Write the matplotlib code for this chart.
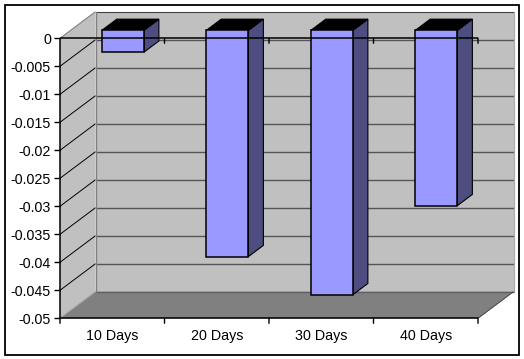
import matplotlib
matplotlib.use("Agg")
import matplotlib.pyplot as plt
from matplotlib.patches import Polygon, Rectangle

categories = ["10 Days", "20 Days", "30 Days", "40 Days"]
values = [-0.0039, -0.0404, -0.0472, -0.0313]
y_ticks = [0, -0.005, -0.01, -0.015, -0.02, -0.025, -0.03, -0.035, -0.04, -0.045, -0.05]
y_labels = ["0", "-0.005", "-0.01", "-0.015", "-0.02", "-0.025", "-0.03", "-0.035", "-0.04", "-0.045", "-0.05"]

W, H = 524, 359
plt.rcParams["font.family"] = ["Liberation Sans", "DejaVu Sans"]
fig = plt.figure(figsize=(W / 100, H / 100), dpi=100, facecolor="white")

L, R, T, B = 60.0, 478.0, 38.3, 318.3
ax = fig.add_axes([L / W, 1 - B / H, (R - L) / W, (B - T) / H])
ax.set_xlim(0, 4)
ax.set_ylim(-0.05, 0)
ax.patch.set_visible(False)

# oblique projection: depth d in [0, 1] runs from the front plane to the back wall
DX = 35.5 / ((R - L) / 4)
DY = 26.6 / ((B - T) / 0.05)


def P(x, y, d=0.0):
    return (x + DX * d, y + DY * d)


def poly(pts, fc, ec="none", lw=0.0, z=1):
    ax.add_patch(Polygon(pts, closed=True, facecolor=fc, edgecolor=ec, linewidth=lw,
                         zorder=z, clip_on=False, joinstyle="miter"))


def line(a, b, color, lw, z):
    ax.plot([a[0], b[0]], [a[1], b[1]], color=color, lw=lw, zorder=z, clip_on=False,
            solid_capstyle="butt")


y0, y1 = y_ticks[0], y_ticks[-1]
# walls and floor
poly([P(0, y0, 1), P(4, y0, 1), P(4, y1, 1), P(0, y1, 1)], "#C0C0C0", z=1)
poly([P(0, y0), P(0, y0, 1), P(0, y1, 1), P(0, y1)], "#C0C0C0", z=1)
poly([P(0, y1), P(4, y1), P(4, y1, 1), P(0, y1, 1)], "#808080", z=1.5)

# gridlines
for v in y_ticks[1:-1]:
    line(P(0, v, 1), P(4, v, 1), "#555555", 1.0, 2)
    line(P(0, v), P(0, v, 1), "#000000", 0.7, 2)
line(P(0, y0), P(0, y0, 1), "#808080", 0.8, 2)
line(P(0, y0, 1), P(4, y0, 1), "#404040", 0.8, 2)
line(P(0, y0, 1), P(0, y1, 1), "#808080", 1.0, 2)
line(P(4, y0, 1), P(4, y1, 1), "#A8A8A8", 0.8, 2)
line(P(0, y1, 1), P(4, y1, 1), "#606060", 1.0, 2)
line(P(0, y1), P(0, y1, 1), "#A0A0A0", 0.8, 2)
line(P(4, y1), P(4, y1, 1), "#404040", 0.7, 2)

# 3D bars
BW = 0.403      # bar width in category units
D0, D1 = 0.30, 0.72   # bar depth range
for i, v in enumerate(values):
    x0 = i + 0.5 - BW / 2
    x1 = i + 0.5 + BW / 2
    z = 3 + i
    poly([P(x1, 0, D0), P(x1, 0, D1), P(x1, v, D1), P(x1, v, D0)], "#4D4D80", "#000000", 0.8, z)
    poly([P(x0, 0, D0), P(x1, 0, D0), P(x1, 0, D1), P(x0, 0, D1)], "#000000", "#000000", 0.8, z)
    poly([P(x0, 0, D0), P(x1, 0, D0), P(x1, v, D0), P(x0, v, D0)], "#9999FF", "#000000", 1.1, z + 0.5)

# front axes
for s in ax.spines.values():
    s.set_visible(False)
line((0, y0), (0, y1), "#000000", 1.1, 10)
line((0, y0), (4, y0), "#000000", 1.1, 10)
line((0, y1), (4, y1), "#000000", 1.1, 10)
ax.set_yticks(y_ticks)
ax.set_yticklabels(y_labels, fontsize=10.3, color="#000000")
ax.set_xticks([i + 0.5 for i in range(len(categories))])
ax.set_xticklabels(categories, fontsize=10.3, color="#000000")
ax.tick_params(axis="y", length=4, width=1.0, pad=2.5)
ax.tick_params(axis="x", length=0, pad=8)
tick_x = range(len(categories) + 1)
for t in tick_x:
    ax.annotate("", xy=(t, y1), xytext=(0, -5), textcoords="offset pixels", xycoords="data",
                arrowprops=dict(arrowstyle="-", lw=1.0, color="#000000", shrinkA=0, shrinkB=0),
                annotation_clip=False, zorder=10)
    if t > 0:
        ax.annotate("", xy=(t, y0), xytext=(0, -5), textcoords="offset pixels", xycoords="data",
                    arrowprops=dict(arrowstyle="-", lw=1.0, color="#000000", shrinkA=0, shrinkB=0),
                    annotation_clip=False, zorder=10)

# outer frame
fig.add_artist(Rectangle((4.5 / W, 1 - 354.5 / H), 515 / W, 350 / H, transform=fig.transFigure,
                         facecolor="none", edgecolor="#000000", linewidth=1.3))

fig.savefig("out.png", dpi=100, facecolor="white")
